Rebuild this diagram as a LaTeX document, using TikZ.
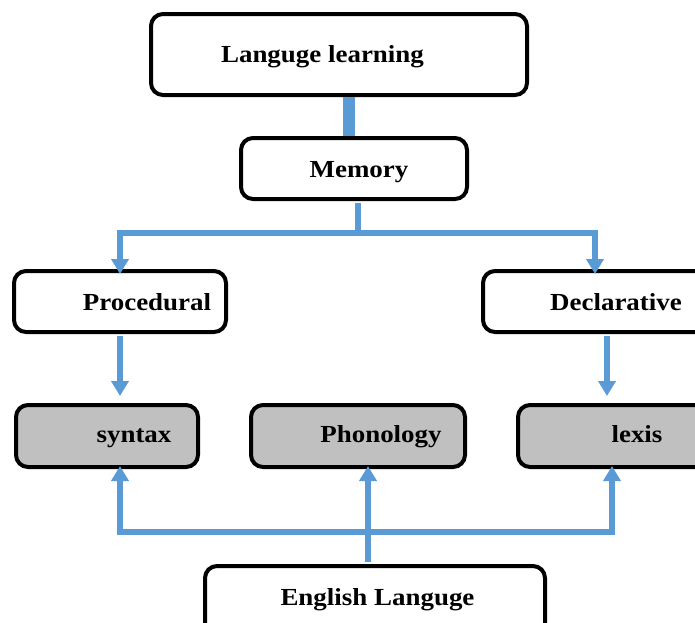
\documentclass[tikz,border=0pt]{standalone}
\usepackage{fontspec}
\newfontfamily\lblfont{Liberation Serif}[FakeStretch=1.1]
\usetikzlibrary{arrows.meta}
\definecolor{linkblue}{HTML}{5B9BD5}
\definecolor{boxgray}{HTML}{C0C0C0}
\tikzset{myhead/.tip={Triangle[width=17pt,length=15pt]}}
\begin{document}
\begin{tikzpicture}[x=1pt,y=-1pt,
  box/.style={draw=black, line width=4pt, rounded corners=12pt, fill=white, inner sep=0pt},
  gbox/.style={box, fill=boxgray},
  lbl/.style={font=\lblfont\fontsize{24.5}{28}\selectfont\bfseries, inner sep=0pt, anchor=base},
  conn/.style={draw=linkblue, line width=6pt, line join=miter},
]
\useasboundingbox (0,0) rectangle (695,622);
\clip (0,0) rectangle (695,622);

% boxes
\node[box, minimum width=376pt, minimum height=81pt] (ll) at (339,54.5) {};
\node[box, minimum width=226pt, minimum height=61pt] (mem) at (354,168.5) {};
\node[box, minimum width=212pt, minimum height=61pt] (proc) at (120,301.5) {};
\node[box, minimum width=237pt, minimum height=61pt] (decl) at (601.5,301.5) {};
\node[gbox, minimum width=182pt, minimum height=62pt] (syn) at (107,436) {};
\node[gbox, minimum width=214pt, minimum height=62pt] (pho) at (358,436) {};
\node[gbox, minimum width=202pt, minimum height=62pt] (lex) at (619,436) {};
\node[box, minimum width=340pt, minimum height=84pt] (eng) at (375,608) {};

% labels
\node[lbl] (tll) at (322.5,62.5) {Languge learning};
\node[lbl] (tmem) at (359,177) {Memory};
\node[lbl] (tproc) at (147,310) {Procedural};
\node[lbl] (tdecl) at (616,310) {Declarative};
\node[lbl] (tsyn) at (134,442) {syntax};
\node[lbl] (tpho) at (381,442) {Phonology};
\node[lbl] (tlex) at (637,442) {lexis};
\node[lbl] (teng) at (377.5,605) {English Languge};

% helper coordinates
\coordinate (xb) at (349,0);
\coordinate (tm) at (357.5,233);
\coordinate (t1) at (120,233);
\coordinate (t2) at (595,233);
\coordinate (xd) at (607,0);
\coordinate (xp) at (368,0);
\coordinate (b1) at (120,532);
\coordinate (b2) at (612,532);

% connectors
\draw[draw=linkblue, line width=12pt] (ll.south -| xb) -- (mem.north -| xb);
\draw[conn, shorten <=2pt] (mem.south -| tm) -- (tm);
\draw[conn, myhead-myhead, shorten <=-5pt, shorten >=-5pt] (proc.north -| t1) -- (t1) -- (t2) -- (decl.north -| t2);
\draw[conn, -myhead, shorten <=2pt, shorten >=7pt] (proc.south) -- (syn.north -| proc.south);
\draw[conn, -myhead, shorten <=2pt, shorten >=7pt] (decl.south -| xd) -- (lex.north -| xd);
\draw[conn, myhead-myhead, shorten <=-3pt, shorten >=-3pt] (syn.south -| b1) -- (b1) -- (b2) -- (lex.south -| b2);
\draw[conn, -myhead, shorten <=2pt, shorten >=-3pt] (eng.north -| xp) -- (pho.south -| xp);
\end{tikzpicture}
\end{document}
